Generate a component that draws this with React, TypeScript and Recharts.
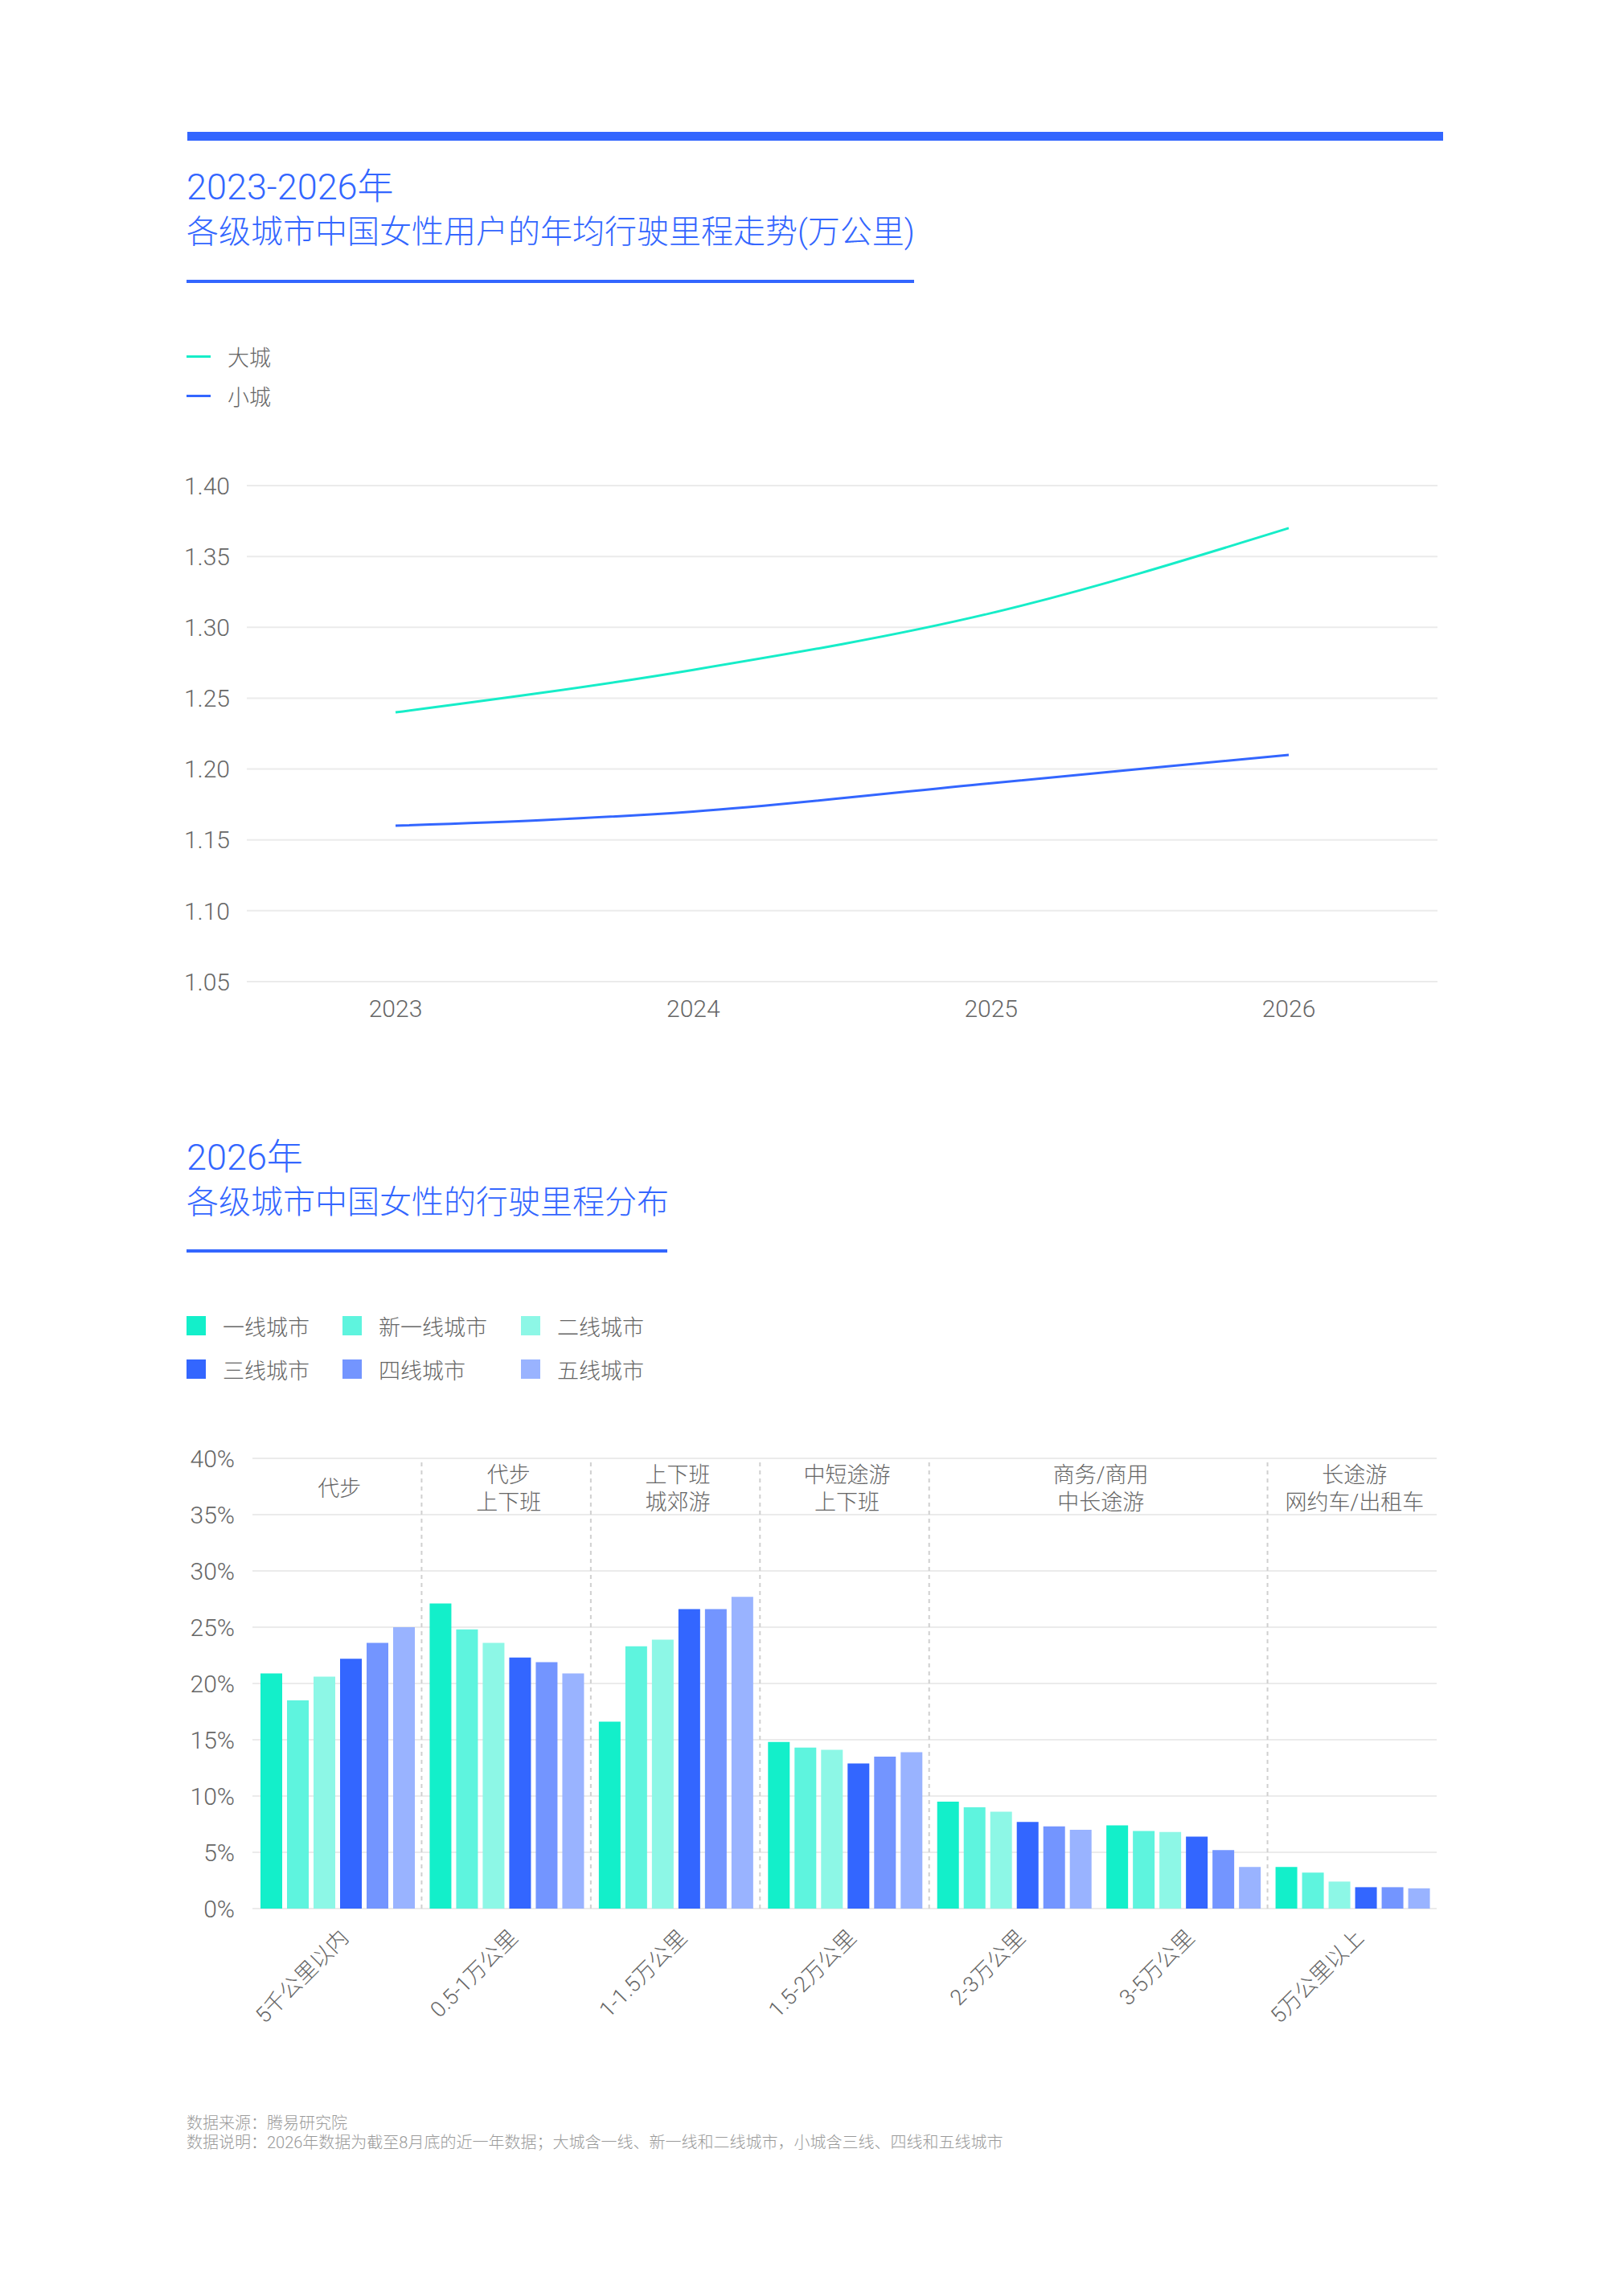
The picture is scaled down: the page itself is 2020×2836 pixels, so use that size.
import React from 'react';
import { LineChart, Line, BarChart, Bar, XAxis, YAxis, CartesianGrid, ReferenceLine, ReferenceArea } from 'recharts';

// line chart: 年均行驶里程 (万公里)
const years = ['2023', '2024', '2025', '2026'];
const bigCity = [1.24, 1.27, 1.31, 1.37];
const smallCity = [1.16, 1.17, 1.19, 1.21];
const lineTicks = [1.05, 1.1, 1.15, 1.2, 1.25, 1.3, 1.35, 1.4];

// bar chart: 行驶里程分布 (%)
const ranges = ['5千公里以内', '0.5-1万公里', '1-1.5万公里', '1.5-2万公里', '2-3万公里', '3-5万公里', '5万公里以上'];
const tier1 = [20.9, 27.1, 16.6, 14.8, 9.5, 7.4, 3.7];
const newTier1 = [18.5, 24.8, 23.3, 14.3, 9.0, 6.9, 3.2];
const tier2 = [20.6, 23.6, 23.9, 14.1, 8.6, 6.8, 2.4];
const tier3 = [22.2, 22.3, 26.6, 12.9, 7.7, 6.4, 1.9];
const tier4 = [23.6, 21.9, 26.6, 13.5, 7.3, 5.2, 1.9];
const tier5 = [25.0, 20.9, 27.7, 13.9, 7.0, 3.7, 1.8];
const tierNames = ['一线城市', '新一线城市', '二线城市', '三线城市', '四线城市', '五线城市'];
const barTicks = [0, 5, 10, 15, 20, 25, 30, 35, 40];

// usage groups over the range categories
const groupNames = ['代步', '代步\n上下班', '上下班\n城郊游', '中短途游\n上下班', '商务/商用\n中长途游', '长途游\n网约车/出租车'];
const groupSpans = [[0, 0], [1, 1], [2, 2], [3, 3], [4, 5], [6, 6]];

const BLUE = '#3366FF';
const TEAL = '#16EDC8';
const tierColors = ['#13EFCA', '#5EF4DE', '#8DF7E6', '#3366FF', '#7395FF', '#99B3FF'];
const GRID = '#EBEBEB';
const FONT = "'Helvetica Neue', Roboto, 'Noto Sans CJK SC', sans-serif";

const lineData = years.map((y, i) => ({ year: y, big: bigCity[i], small: smallCity[i] }));
const seriesList = [tier1, newTier1, tier2, tier3, tier4, tier5];
const barData = ranges.map((r, i) => {
    const row: any = { range: r };
    seriesList.forEach((s, k) => { row['t' + k] = s[i]; });
    return row;
});

const GroupLabel = (props: any) => {
    const { viewBox, lines } = props;
    const cx = viewBox.x + viewBox.width / 2 + 3;
    const cy = viewBox.y + viewBox.height / 2 + 3;
    const lh = 34;
    const y0 = cy - ((lines.length - 1) * lh) / 2;
    return (
        <text textAnchor="middle" fill="#666" fontSize={27} fontWeight={300}>
            {lines.map((l: string, i: number) => (
                <tspan key={i} x={cx} y={y0 + i * lh} dy="0.35em">{l}</tspan>
            ))}
        </text>
    );
};

const AngledTick = (props: any) => {
    const { x, y, payload } = props;
    const ax = x + 16;
    const ay = y + 38;
    return (
        <text x={ax} y={ay} textAnchor="end" fill="#666" fontSize={27} fontWeight={300}
            transform={`rotate(-45, ${ax}, ${ay})`}>
            {payload.value}
        </text>
    );
};

const Title = ({ top, lines }: { top: number; lines: string[] }) => (
    <div style={{ position: 'absolute', left: 232, top, color: BLUE, lineHeight: '56px', fontWeight: 300, whiteSpace: 'nowrap' }}>
        <div style={{ fontSize: 45 }}>{lines[0]}</div>
        <div style={{ fontSize: 40 }}>{lines[1]}</div>
    </div>
);

const App = () => {
    const tickStyle = { fill: '#666', fontSize: 30, fontWeight: 300 };
    return (
        <div style={{ position: 'absolute', left: 0, top: 0, width: 2020, height: 2836, background: '#fff', fontFamily: FONT, overflow: 'hidden' }}>
            <div style={{ position: 'absolute', left: 233, top: 164, width: 1562, height: 11, background: BLUE }} />

            <Title top={205} lines={['2023-2026年', '各级城市中国女性用户的年均行驶里程走势(万公里)']} />
            <div style={{ position: 'absolute', left: 232, top: 348, width: 905, height: 4, background: BLUE }} />

            {[['大城', TEAL, 443], ['小城', BLUE, 492]].map(([name, color, y]) => (
                <div key={name as string} style={{ position: 'absolute', left: 232, top: (y as number) - 20, height: 40, display: 'flex', alignItems: 'center' }}>
                    <span style={{ width: 30, height: 3, background: color as string, marginRight: 21 }} />
                    <span style={{ fontSize: 27, color: '#666', fontWeight: 300 }}>{name}</span>
                </div>
            ))}

            <div style={{ position: 'absolute', left: 180, top: 580 }}>
                <LineChart width={1630} height={720} data={lineData} margin={{ top: 24, right: 22, left: 0, bottom: 19 }}>
                    <CartesianGrid vertical={false} stroke={GRID} strokeWidth={2} />
                    <XAxis dataKey="year" axisLine={false} tickLine={false} tickSize={0} tickMargin={23} height={60}
                        padding={{ left: 185, right: 185 }} tick={tickStyle} interval={0} />
                    <YAxis width={127} domain={[1.05, 1.4]} ticks={lineTicks} axisLine={false} tickLine={false}
                        tickSize={0} tickMargin={21} tick={tickStyle} interval={0}
                        tickFormatter={(v: number) => v.toFixed(2)} />
                    <Line type="monotone" dataKey="big" stroke={TEAL} strokeWidth={3} dot={false} isAnimationActive={false} />
                    <Line type="monotone" dataKey="small" stroke={BLUE} strokeWidth={3} dot={false} isAnimationActive={false} />
                </LineChart>
            </div>

            <Title top={1412} lines={['2026年', '各级城市中国女性的行驶里程分布']} />
            <div style={{ position: 'absolute', left: 232, top: 1554, width: 598, height: 4, background: BLUE }} />

            {tierNames.map((name, i) => {
                const col = i % 3;
                const row = Math.floor(i / 3);
                const left = [232, 426, 648][col];
                return (
                    <div key={name} style={{ position: 'absolute', left, top: 1629 + row * 54, height: 40, display: 'flex', alignItems: 'center' }}>
                        <span style={{ width: 24, height: 24, background: tierColors[i], marginRight: 21 }} />
                        <span style={{ fontSize: 27, color: '#666', fontWeight: 300 }}>{name}</span>
                    </div>
                );
            })}

            <div style={{ position: 'absolute', left: 180, top: 1790 }}>
                <BarChart width={1630} height={820} data={barData} margin={{ top: 24, right: 23, left: 0, bottom: 16 }}
                    barCategoryGap={10} barGap={6}>
                    <CartesianGrid vertical={false} stroke={GRID} strokeWidth={2} />
                    {groupSpans.slice(1).map(([start]) => (
                        <ReferenceLine key={start} x={ranges[start]} position="start" stroke="#D0D0D0" strokeWidth={2} strokeDasharray="5 5" />
                    ))}
                    {groupSpans.map(([a, b], i) => (
                        <ReferenceArea key={i} x1={ranges[a]} x2={ranges[b]} y1={35} y2={40} fillOpacity={0} strokeOpacity={0}
                            label={<GroupLabel lines={groupNames[i].split('\n')} />} />
                    ))}
                    <XAxis dataKey="range" axisLine={false} tickLine={false} tickSize={0} tickMargin={0} height={220}
                        interval={0} tick={<AngledTick />} />
                    <YAxis width={134} domain={[0, 40]} ticks={barTicks} axisLine={false} tickLine={false}
                        tickSize={0} tickMargin={22} tick={tickStyle} interval={0}
                        tickFormatter={(v: number) => `${v}%`} />
                    {tierNames.map((name, k) => (
                        <Bar key={name} dataKey={'t' + k} name={name} fill={tierColors[k]} isAnimationActive={false} />
                    ))}
                </BarChart>
            </div>

            <div style={{ position: 'absolute', left: 232, top: 2629, fontSize: 20, lineHeight: '24px', color: '#9A9A9A', fontWeight: 300, whiteSpace: 'nowrap' }}>
                <div>数据来源：腾易研究院</div>
                <div>数据说明：2026年数据为截至8月底的近一年数据；大城含一线、新一线和二线城市，小城含三线、四线和五线城市</div>
            </div>
        </div>
    );
};

export default App;
